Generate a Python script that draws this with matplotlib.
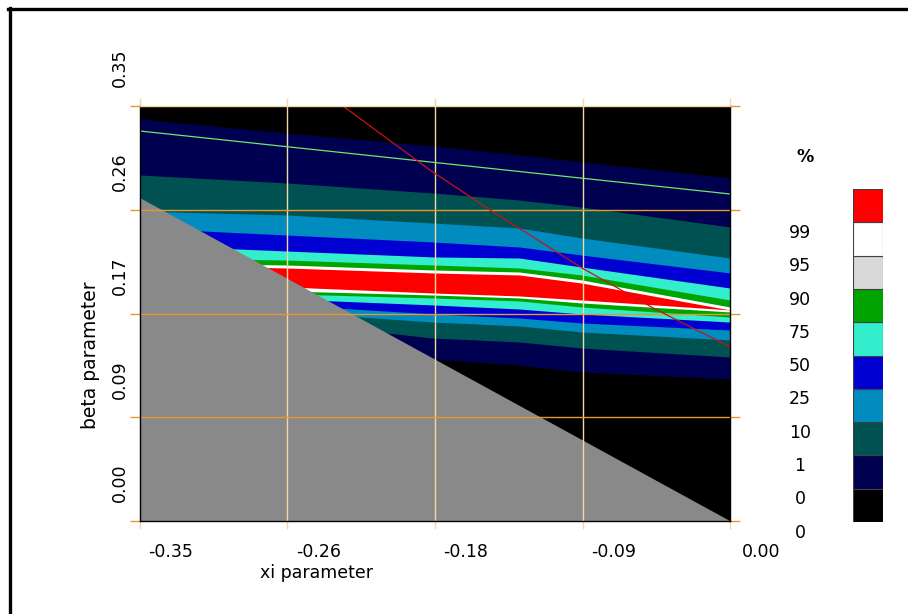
import matplotlib
matplotlib.use("Agg")
import matplotlib.pyplot as plt
from matplotlib.lines import Line2D

W, H = 908, 614

# axes ticks
xi_ticks = [-0.35, -0.2625, -0.175, -0.0875, 0.0]
xi_labels = ["-0.35", "-0.26", "-0.18", "-0.09", "0.00"]
beta_ticks = [0.0, 0.0875, 0.175, 0.2625, 0.35]
beta_labels = ["0.00", "0.09", "0.17", "0.26", "0.35"]

xi_nodes = [-0.350, -0.263, -0.176, -0.125, -0.088, 0.000]

# band edges (beta values), from top to bottom
edge_1 = [0.3390, 0.3272, 0.3163, 0.3087, 0.3028, 0.2893]
edge_2 = [0.2918, 0.2851, 0.2766, 0.2707, 0.2648, 0.2480]
edge_3 = [0.2614, 0.2581, 0.2513, 0.2471, 0.2387, 0.2218]
edge_4 = [0.2471, 0.2412, 0.2353, 0.2311, 0.2243, 0.2092]
edge_5 = [0.2328, 0.2277, 0.2227, 0.2218, 0.2142, 0.1965]
edge_6 = [0.2218, 0.2201, 0.2159, 0.2134, 0.2075, 0.1864]
edge_7 = [0.2176, 0.2159, 0.2117, 0.2100, 0.2033, 0.1805]
edge_8 = [0.2159, 0.2134, 0.2092, 0.2075, 0.2007, 0.1780]
edge_9 = [0.2033, 0.1974, 0.1923, 0.1898, 0.1864, 0.1780]
edge_10 = [0.2016, 0.1940, 0.1906, 0.1881, 0.1839, 0.1763]
edge_11 = [0.1990, 0.1915, 0.1881, 0.1856, 0.1805, 0.1720]
edge_12 = [0.1957, 0.1872, 0.1822, 0.1788, 0.1746, 0.1678]
edge_13 = [0.1923, 0.1822, 0.1746, 0.1712, 0.1670, 0.1611]
edge_14 = [0.1881, 0.1763, 0.1678, 0.1645, 0.1594, 0.1527]
edge_15 = [0.1822, 0.1678, 0.1543, 0.1510, 0.1459, 0.1383]
edge_16 = [0.1737, 0.1527, 0.1366, 0.1316, 0.1257, 0.1198]

# grey (excluded) region
excl_xi = [-0.35, 0.0, -0.35]
excl_beta = [0.2724, 0.0, 0.0]

# green reference line
green_xi = [-0.35, 0.0]
green_beta = [0.3289, 0.2758]

# red curve
red_xi = [-0.2296, -0.1780, -0.1442, -0.0878, -0.0457, 0.0]
red_beta = [0.3500, 0.2960, 0.2640, 0.2134, 0.1797, 0.1468]

# colour scale
pct_labels = ["0", "0", "1", "10", "25", "50", "75", "90", "95", "99"]
scale_colors = ["#000000", "#000050", "#005252", "#008cbe", "#0000d2",
                "#33eecc", "#00a400", "#d9d9d9", "#ffffff", "#ff0000"]

c_navy, c_teal, c_steel, c_blue = "#000050", "#005252", "#008cbe", "#0000d2"
c_aqua, c_green, c_white, c_red = "#33eecc", "#00a400", "#ffffff", "#ff0000"

edges = [edge_1, edge_2, edge_3, edge_4, edge_5, edge_6, edge_7, edge_8,
         edge_9, edge_10, edge_11, edge_12, edge_13, edge_14, edge_15, edge_16]
fills = [c_navy, c_teal, c_steel, c_blue, c_aqua, c_green, c_white, c_red,
         c_white, c_green, c_aqua, c_blue, c_steel, c_teal, c_navy, "#000000"]

fig = plt.figure(figsize=(W / 100, H / 100), dpi=100)
ax = fig.add_axes([140 / W, 1 - 521 / H, 590 / W, 415 / H])
ax.set_facecolor("black")

# each band is filled from its upper edge downwards, later ones on top
for e, c in zip(edges, fills):
    ax.fill_between(xi_nodes, 0, e, color=c, lw=0, zorder=1)

ax.fill(excl_xi, excl_beta, color="#898989", lw=0, zorder=2)

ax.set_xlim(-0.35, 0.0)
ax.set_ylim(0.0, 0.35)

grid_v = "#f2d9a6"
grid_h = "#e8962e"
for xv in xi_ticks[1:-1]:
    ax.axvline(xv, color=grid_v, lw=1.0, zorder=3)
for yv in beta_ticks[1:-1]:
    ax.axhline(yv, color=grid_h, lw=1.0, zorder=3)

ax.plot(green_xi, green_beta, color="#6ee86e", lw=0.9, zorder=4)
ax.plot(red_xi, red_beta, color="#c81414", lw=0.9, zorder=4)

ax.set_xticks(xi_ticks)
ax.set_yticks(beta_ticks)
ax.set_xticklabels([])
ax.set_yticklabels([])
ax.tick_params(axis="x", which="both", top=True, bottom=True, length=6,
               width=1.0, color=grid_v, direction="out")
ax.tick_params(axis="y", which="both", left=True, right=True, length=7,
               width=1.0, color=grid_h, direction="out")
ax.spines["top"].set_color(grid_v)
for s in ["left", "bottom", "right"]:
    ax.spines[s].set_color("black")
for s in ax.spines.values():
    s.set_linewidth(1.0)
    s.set_zorder(5)

# tick labels sit after their tick, as in the original program
for xv, lab in zip(xi_ticks, xi_labels):
    ax.annotate(lab, xy=(xv, 0), xycoords=("data", "axes fraction"),
                xytext=(31 * 0.72, -31 * 0.72), textcoords="offset points",
                ha="center", va="center", fontsize=12.5, annotation_clip=False)
for yv, lab in zip(beta_ticks, beta_labels):
    ax.annotate(lab, xy=(0, yv), xycoords=("axes fraction", "data"),
                xytext=(-20 * 0.72, 38 * 0.72), textcoords="offset points",
                ha="center", va="center", rotation=90, fontsize=12.5,
                annotation_clip=False)

fig.text(317 / W, 1 - 573 / H, "xi parameter", ha="center", va="center",
         fontsize=12.5)
fig.text(91 / W, 1 - 355 / H, "beta parameter", ha="center", va="center",
         rotation=90, fontsize=13.5)

# colour key
cax = fig.add_axes([853 / W, 1 - 522 / H, 30 / W, 333 / H])
for i, c in enumerate(scale_colors):
    cax.bar(0, 1, bottom=i, width=1, align="edge", color=c,
            edgecolor="#404040", lw=0.8)
cax.set_xlim(0, 1)
cax.set_ylim(0, 10)
cax.axis("off")
for i, lab in enumerate(pct_labels):
    cax.text(-1.77, i - 0.32, lab, ha="center", va="center", fontsize=12.5,
             clip_on=False)
cax.text(-1.6, 10.97, "%", ha="center", va="center", fontsize=12.5,
         fontweight="bold", clip_on=False)

# outer frame (top and left only)
fig.add_artist(Line2D([8 / W, 1], [1 - 9 / H, 1 - 9 / H],
                      transform=fig.transFigure, color="black", lw=2.4))
fig.add_artist(Line2D([9.5 / W, 9.5 / W], [0, 1 - 8 / H],
                      transform=fig.transFigure, color="black", lw=2.4))

fig.savefig("out.png", dpi=100)
